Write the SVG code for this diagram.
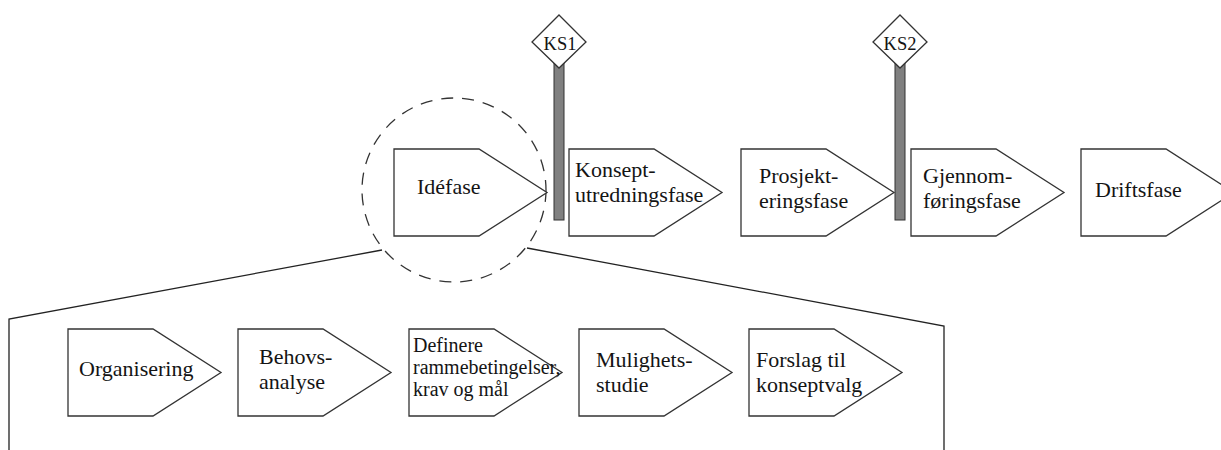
<svg xmlns="http://www.w3.org/2000/svg" width="1221" height="450" viewBox="0 0 1221 450">
  <style>
    .phase { fill: #ffffff; stroke: #333333; stroke-width: 1.3; }
    text { font-family: 'Liberation Serif', 'DejaVu Serif', serif; fill: #141414; }
    .lbl { font-size: 22px; }
    .lbl-s { font-size: 20px; }
    .gate-bar { fill: #808080; stroke: #333333; stroke-width: 1; }
    .gate-mark { fill: #ffffff; stroke: #333333; stroke-width: 1.3; }
    .gate-lbl { font-size: 18.5px; text-anchor: middle; }
    .lens { fill: none; stroke: #333333; stroke-width: 1.3; stroke-dasharray: 12 9; }
    .frame { fill: none; stroke: #222222; stroke-width: 1.3; }
  </style>
  <defs>
    <!-- pentagon arrow shape: 85 wide body, 68 wide point, 87 tall -->
    <path id="chevron" d="M0,0 H85 L153,43.5 L85,87 H0 Z"/>
  </defs>
  <rect width="1221" height="450" fill="#ffffff"/>

  <!-- magnifier: dashed circle and zoom frame -->
  <g id="connectors">
    <circle class="lens" cx="454" cy="190" r="92"/>
    <polyline class="frame" points="382,250 9,319 9,450"/>
    <polyline class="frame" points="527,248 944,326 944,450"/>
  </g>

  <!-- main phases -->
  <g id="idefase">
    <use href="#chevron" class="phase" x="394" y="149"/>
    <text class="lbl" x="417" y="194">Idéfase</text>
  </g>
  <g id="konseptutredningsfase">
    <use href="#chevron" class="phase" x="569" y="149"/>
    <text class="lbl" x="575" y="177">Konsept-</text>
    <text class="lbl" x="575" y="202">utredningsfase</text>
  </g>
  <g id="prosjekteringsfase">
    <use href="#chevron" class="phase" x="741" y="149"/>
    <text class="lbl" x="759" y="183">Prosjekt-</text>
    <text class="lbl" x="759" y="208">eringsfase</text>
  </g>
  <g id="gjennomforingsfase">
    <use href="#chevron" class="phase" x="911" y="149"/>
    <text class="lbl" x="923" y="183">Gjennom-</text>
    <text class="lbl" x="923" y="208">føringsfase</text>
  </g>
  <g id="driftsfase">
    <use href="#chevron" class="phase" x="1081" y="149"/>
    <text class="lbl" x="1095" y="197">Driftsfase</text>
  </g>

  <!-- quality gates -->
  <g id="ks1">
    <rect class="gate-bar" x="554" y="62" width="10" height="158"/>
    <polygon class="gate-mark" points="559,15 586,42 559,68 532,42"/>
    <text class="gate-lbl" x="560" y="50">KS1</text>
  </g>
  <g id="ks2">
    <rect class="gate-bar" x="895" y="62" width="10" height="158"/>
    <polygon class="gate-mark" points="900,15 927,42 900,68 873,42"/>
    <text class="gate-lbl" x="900" y="50">KS2</text>
  </g>

  <!-- sub-steps of the idea phase -->
  <g id="organisering">
    <use href="#chevron" class="phase" x="68" y="329"/>
    <text class="lbl" x="79" y="376">Organisering</text>
  </g>
  <g id="behovsanalyse">
    <use href="#chevron" class="phase" x="238" y="329"/>
    <text class="lbl" x="259" y="364">Behovs-</text>
    <text class="lbl" x="259" y="389">analyse</text>
  </g>
  <g id="definere">
    <use href="#chevron" class="phase" x="409" y="329"/>
    <text class="lbl-s" x="413" y="352">Definere</text>
    <text class="lbl-s" x="413" y="374">rammebetingelser,</text>
    <text class="lbl-s" x="413" y="396">krav og mål</text>
  </g>
  <g id="mulighetsstudie">
    <use href="#chevron" class="phase" x="579" y="329"/>
    <text class="lbl" x="596" y="367">Mulighets-</text>
    <text class="lbl" x="596" y="392">studie</text>
  </g>
  <g id="forslag">
    <use href="#chevron" class="phase" x="749" y="329"/>
    <text class="lbl" x="756" y="367">Forslag til</text>
    <text class="lbl" x="756" y="392">konseptvalg</text>
  </g>
</svg>
